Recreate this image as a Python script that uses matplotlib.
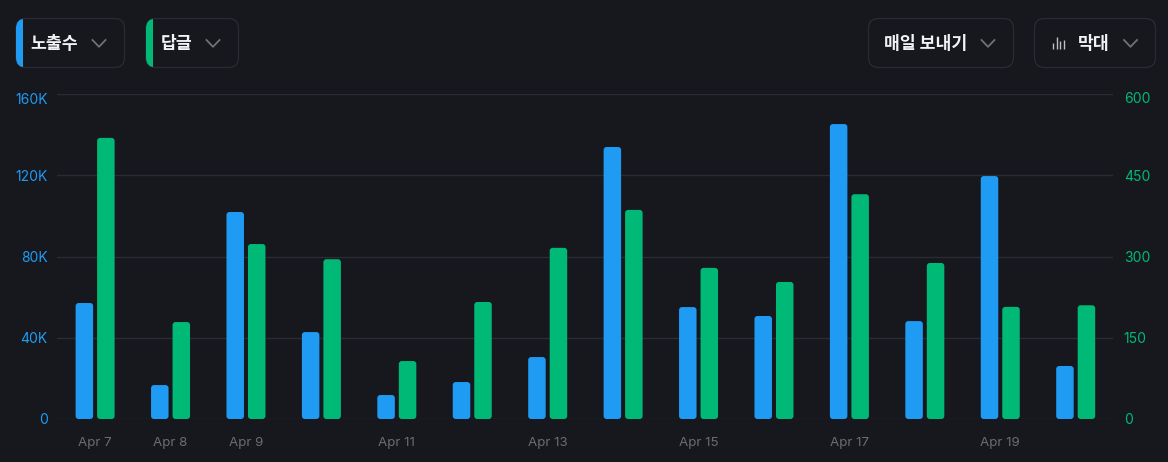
#Import Packages
import matplotlib
matplotlib.use('Agg')
import matplotlib.pyplot as plt
from matplotlib.patches import FancyBboxPatch, Rectangle
from matplotlib.transforms import ScaledTranslation

plt.rcParams['font.family'] = ['Inter', 'Noto Sans CJK KR', 'DejaVu Sans']

#Data
days = ['Apr 7', 'Apr 8', 'Apr 9', '', 'Apr 11', '', 'Apr 13', '', 'Apr 15', '', 'Apr 17', '', 'Apr 19', '']
impressions = [57100, 16700, 101900, 42800, 11800, 18200, 30500, 133900, 55100, 50700, 145200, 48200, 119600, 26100]
replies = [519, 179, 323, 295, 107, 216, 316, 386, 279, 253, 415, 288, 207, 210]
left_ticks = [0, 40000, 80000, 120000, 160000]
left_labels = ['0', '40K', '80K', '120K', '160K']
right_ticks = [0, 150, 300, 450, 600]
right_labels = ['0', '150', '300', '450', '600']

#Colors
bg = '#17181d'
grid = '#2a2c33'
blue = '#1f9bf4'
green = '#00b976'
white = '#f2f3f5'
chevron = '#6f7176'

W, H = 1168, 462
AX_L, AX_R, AX_T, AX_B = 57.4, 1113.4, 94, 419
BAR_W = 17.5 / 75.43
OFFSET = 10.75 / 75.43

fig = plt.figure(figsize=(W / 100, H / 100), dpi=100, facecolor=bg)

ax = fig.add_axes([AX_L / W, (H - AX_B) / H, (AX_R - AX_L) / W, (AX_B - AX_T) / H])
ax.set_facecolor('none')
ax2 = ax.twinx()
ax2.set_facecolor('none')


def rounded_bars(axis, xs, values, ymax, color):
    #corner radius of 3 px, same on x and y
    x_per_px = 14 / (AX_R - AX_L)
    y_per_px = ymax / (AX_B - AX_T)
    for x, v in zip(xs, values):
        axis.add_patch(FancyBboxPatch((x - BAR_W / 2, 0), BAR_W, v,
                                      boxstyle='round,pad=0,rounding_size=%f' % (3 * x_per_px),
                                      mutation_aspect=y_per_px / x_per_px,
                                      fc=color, ec='none', zorder=3))


xs = list(range(len(days)))
rounded_bars(ax, [x - OFFSET for x in xs], impressions, 160000, blue)
rounded_bars(ax2, [x + OFFSET for x in xs], replies, 600, green)

ax.set_xlim(-0.5, 13.5)
ax.set_ylim(0, 160000)
ax2.set_ylim(0, 600)

ax.set_xticks(xs)
ax.set_xticklabels(days, fontsize=9.6, color='#6c6d72')
ax.tick_params(axis='x', length=0, pad=13)
ax.set_yticks(left_ticks)
ax.set_yticklabels(left_labels, fontsize=10, color=blue)
ax.tick_params(axis='y', length=0, pad=7)
ax.grid(axis='y', color=grid, linewidth=1.0, zorder=0)
ax.set_axisbelow(True)
ax2.set_yticks(right_ticks)
ax2.set_yticklabels(right_labels, fontsize=10, color=green)
ax2.tick_params(axis='y', length=0, pad=7.5)

#top labels sit a few px under their gridline
shift = ScaledTranslation(0, -4 / 100, fig.dpi_scale_trans)
for lab in (ax.get_yticklabels()[-1], ax2.get_yticklabels()[-1]):
    lab.set_transform(lab.get_transform() + shift)

for a in (ax, ax2):
    for s in a.spines.values():
        s.set_visible(False)

#Controls on top, in pixel coordinates
ui = fig.add_axes([0, 0, 1, 1])
ui.set_xlim(0, W)
ui.set_ylim(H, 0)
ui.axis('off')
ui.patch.set_alpha(0)


def pill(x0, x1, accent=None):
    y0, y1 = 18.5, 67.5
    box = FancyBboxPatch((x0, y0), x1 - x0, y1 - y0, boxstyle='round,pad=0,rounding_size=10',
                         fc='none', ec=grid, lw=0.9)
    ui.add_patch(box)
    if accent:
        r = Rectangle((x0, y0), 7.2, y1 - y0, fc=accent, ec='none')
        ui.add_patch(r)
        r.set_clip_path(box)


def chev(x):
    ui.plot([x - 6.5, x, x + 6.5], [40, 46.8, 40], color=chevron, lw=1.3)


pill(16, 124.5, blue)
pill(146, 238.5, green)
pill(868.5, 1013.5)
pill(1034.5, 1155.5)
for x in (99, 213, 988, 1130.5):
    chev(x)

for x, label in ((30.5, '노출수'), (161, '답글'), (884, '매일 보내기'), (1078, '막대')):
    ui.text(x, 44.3, label, color=white, fontsize=12.4, fontweight='bold', va='center', ha='left',
            family='Noto Sans CJK KR')

#small bar icon
for x, top in ((1053, 43), (1056.5, 37), (1060, 41), (1063.5, 40)):
    ui.plot([x, x], [top, 49], color='#bfc0c3', lw=1.0, solid_capstyle='butt')

fig.savefig('out.png', dpi=100, facecolor=bg)
